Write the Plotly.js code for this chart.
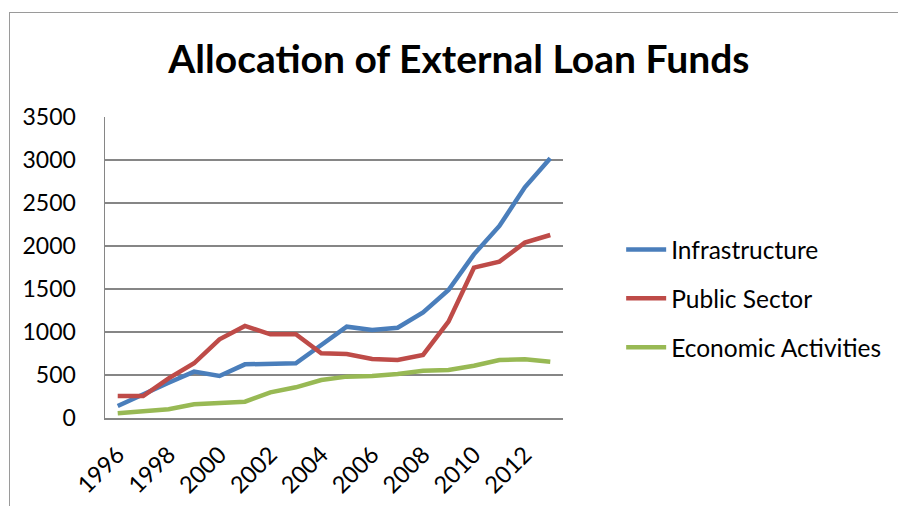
<!DOCTYPE html>
<html>
<head>
<meta charset="utf-8">
<script src="https://cdn.plot.ly/plotly-3.0.1.min.js"></script>
<style>
  html, body { margin: 0; padding: 0; background: #fff; }
  #wrap { position: relative; width: 898px; height: 506px; overflow: hidden; }
  #chart { width: 898px; height: 506px; }
  #frame { position: absolute; left: 9px; top: 12px; width: 1000px; height: 1000px;
           border-left: 1.5px solid #9a9a9a; border-top: 1.5px solid #9a9a9a; pointer-events: none; }
</style>
</head>
<body>
<div id="wrap"><div id="chart"></div><div id="frame"></div></div>
<script>
const years = [1996, 1997, 1998, 1999, 2000, 2001, 2002, 2003, 2004, 2005, 2006, 2007, 2008, 2009, 2010, 2011, 2012, 2013];
const infrastructure = [140, 280, 410, 539, 488, 624, 636, 636, 849, 1062, 1023, 1050, 1228, 1488, 1903, 2233, 2682, 3020];
const publicSector = [256, 256, 461, 636, 915, 1070, 973, 973, 752, 744, 686, 674, 733, 1120, 1748, 1818, 2039, 2128];
const economicActivities = [54, 74, 101, 159, 178, 190, 298, 357, 442, 481, 488, 512, 550, 558, 608, 674, 682, 655];
const xTickVals = [1996, 1998, 2000, 2002, 2004, 2006, 2008, 2010, 2012];
const yTickVals = [0, 500, 1000, 1500, 2000, 2500, 3000, 3500];

const FONT = 'Lato, Calibri, "Open Sans", sans-serif';
function series(name, y, color, g) {
  return { x: years, y: y, name: name, type: 'scatter', mode: 'lines', legendgroup: g,
           line: { color: color, width: 4.5 }, hoverinfo: 'skip' };
}
const data = [
  series('Infrastructure', infrastructure, '#4A7EBB', 'a'),
  series('Public Sector', publicSector, '#BE4B48', 'b'),
  series('Economic Activities', economicActivities, '#98B954', 'c')
];
const layout = {
  width: 898, height: 506,
  margin: { l: 105, r: 329, t: 117, b: 88, pad: 0 },
  paper_bgcolor: '#fff', plot_bgcolor: '#fff',
  font: { family: FONT, size: 23, color: '#000' },
  title: { text: '<b>Allocation of External Loan Funds</b>', x: 0.511, xanchor: 'center', y: 0.882, yanchor: 'middle',
           font: { family: FONT, size: 39, color: '#000' } },
  xaxis: { range: [1995.5, 2013.5], tickmode: 'array', tickvals: xTickVals, ticktext: xTickVals.map(String),
           tickangle: -45, showgrid: false, zeroline: false, showline: true, linecolor: '#868686', linewidth: 1.5,
           ticks: '', ticklabelstandoff: 12, tickfont: { family: FONT, size: 23.5 }, fixedrange: true },
  yaxis: { range: [0, 3500], tickmode: 'array', tickvals: yTickVals, showgrid: true, gridcolor: '#868686', gridwidth: 1.5,
           zeroline: false, showline: true, linecolor: '#868686', linewidth: 1.5, ticks: '', ticklabelstandoff: 23,
           tickfont: { family: FONT, size: 23 }, fixedrange: true },
  showlegend: true,
  legend: { x: 1.127, xanchor: 'left', y: 0.397, yanchor: 'middle', tracegroupgap: 14, itemwidth: 40,
            font: { family: FONT, size: 24.5 }, bgcolor: 'rgba(0,0,0,0)' }
};
Plotly.newPlot('chart', data, layout, { displayModeBar: false, staticPlot: true });
</script>
</body>
</html>
